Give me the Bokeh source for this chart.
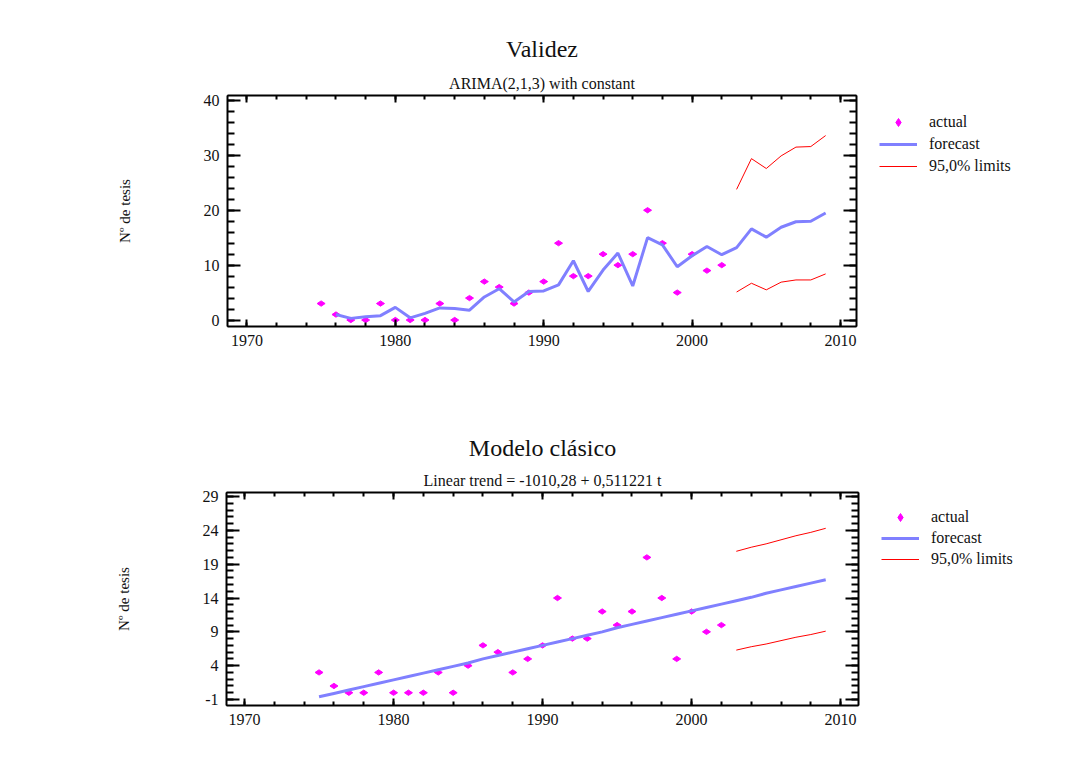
from bokeh.plotting import figure
from bokeh.layouts import column, row
from bokeh.models import (LinearAxis, Range1d, Title, Legend, LegendItem,
                          FixedTicker, CustomJSTickFormatter, ColumnDataSource)
from bokeh.embed import file_html
from bokeh.resources import INLINE

# ---------------- data ----------------
actual_years = list(range(1975, 2003))
actual = [3, 1, 0, 0, 3, 0, 0, 0, 3, 0, 4, 7, 6, 3, 5, 7, 14, 8, 8, 12,
          10, 12, 20, 14, 5, 12, 9, 10]

arima_years = list(range(1976, 2010))
arima_forecast = [1.0, 0.3, 0.6, 0.8, 2.3, 0.4, 1.2, 2.2, 2.1, 1.8, 4.2, 5.7,
                  3.3, 5.2, 5.3, 6.4, 10.8, 5.2, 9.1, 12.2, 6.2, 15.0, 13.7,
                  9.7, 11.7, 13.4, 11.9, 13.2, 16.6, 15.1, 16.9, 17.9, 18.0,
                  19.5]
limit_years = list(range(2003, 2010))
arima_upper = [23.8, 29.4, 27.6, 29.9, 31.5, 31.6, 33.6]
arima_lower = [5.1, 6.7, 5.5, 6.9, 7.3, 7.3, 8.4]

trend_years = list(range(1975, 2010))
trend_forecast = [-0.6, -0.1, 0.4, 0.9, 1.4, 1.9, 2.4, 2.9, 3.4, 3.9, 4.4,
                  5.0, 5.5, 6.0, 6.5, 7.0, 7.5, 8.0, 8.5, 9.0, 9.6, 10.1,
                  10.6, 11.1, 11.6, 12.1, 12.6, 13.1, 13.6, 14.1, 14.7, 15.2,
                  15.7, 16.2, 16.7]
trend_upper = [20.9, 21.5, 22.0, 22.6, 23.2, 23.7, 24.3]
trend_lower = [6.3, 6.8, 7.2, 7.7, 8.2, 8.6, 9.1]

x_ticks = [1970, 1980, 1990, 2000, 2010]
x_minor = list(range(1968, 2012, 2))
y_ticks_top = [0, 10, 20, 30, 40]
y_minor_top = list(range(0, 42, 2))
y_ticks_bot = [-1, 4, 9, 14, 19, 24, 29]
y_minor_bot = list(range(-1, 30))
legend_labels = ["actual", "forecast", "95,0% limits"]

FONT = "Liberation Serif"
TXT = "#111111"
MAGENTA = "#ff00ff"
BLUE = "#8080ff"
RED = "#ff0000"
MAIN_W = 876
TOTAL_W = 1050


def style_axis(ax, major_in, minor_in, labels=True):
    ax.axis_line_width = 2
    ax.axis_line_color = "black"
    ax.major_tick_in = major_in
    ax.major_tick_out = 0
    ax.minor_tick_in = minor_in
    ax.minor_tick_out = 0
    ax.major_tick_line_width = 2
    ax.minor_tick_line_width = 2
    ax.major_tick_line_color = "black"
    ax.minor_tick_line_color = "black"
    ax.major_label_text_font = FONT
    ax.major_label_text_font_size = "16px"
    ax.major_label_text_color = TXT
    ax.major_label_standoff = 8
    if labels:
        ax.formatter = CustomJSTickFormatter(code="return String(tick)")
    else:
        ax.formatter = CustomJSTickFormatter(code="return ''")
        ax.major_label_standoff = 0


def add_markers_lines(p, years_f, fc, years_l, up, lo):
    src_a = ColumnDataSource(dict(x=actual_years, y=actual))
    r_act = p.scatter("x", "y", source=src_a, marker="diamond", size=8,
                      angle=1.5708, color=MAGENTA)
    r_fc = p.line(years_f, fc, line_color=BLUE, line_width=3)
    r_up = p.line(years_l, up, line_color=RED, line_width=1)
    r_lo = p.line(years_l, lo, line_color=RED, line_width=1)
    return r_act, r_fc, r_up, r_lo


def make_panel(height, xr, yr, mb, yticks, yminor, title, subtitle,
               years_f, fc, years_l, up, lo, leg_loc, leg_spacing,
               title_standoff):
    p = figure(width=MAIN_W, height=height, output_backend="svg",
               toolbar_location=None, x_range=Range1d(*xr),
               y_range=Range1d(*yr),
               min_border_left=mb[0], min_border_right=mb[1],
               min_border_top=mb[2], min_border_bottom=mb[3])
    p.xgrid.visible = False
    p.ygrid.visible = False
    p.outline_line_color = "black"
    p.outline_line_width = 1
    p.background_fill_color = "white"
    p.border_fill_color = "white"

    xt = FixedTicker(ticks=x_ticks, minor_ticks=x_minor)
    yt = FixedTicker(ticks=yticks, minor_ticks=yminor)

    p.xaxis.ticker = xt
    p.yaxis.ticker = yt
    style_axis(p.xaxis[0], 7, 4)
    style_axis(p.yaxis[0], 13, 7)
    p.yaxis.axis_label = "Nº de tesis"
    p.yaxis.axis_label_text_font = FONT
    p.yaxis.axis_label_text_font_size = "15px"
    p.yaxis.axis_label_text_font_style = "normal"
    p.yaxis.axis_label_text_color = TXT
    p.yaxis.axis_label_standoff = 68

    top = LinearAxis(ticker=xt)
    style_axis(top, 7, 4, labels=False)
    p.add_layout(top, "above")
    right = LinearAxis(ticker=yt)
    style_axis(right, 13, 7, labels=False)
    p.add_layout(right, "right")

    p.add_layout(Title(text=subtitle, align="center", text_font=FONT,
                       text_font_size="16px", text_font_style="normal",
                       text_color=TXT, standoff=7), "above")
    p.add_layout(Title(text=title, align="center", text_font=FONT,
                       text_font_size="24px", text_font_style="normal",
                       text_color=TXT, standoff=title_standoff), "above")

    add_markers_lines(p, years_f, fc, years_l, up, lo)

    # legend lives in a narrow side figure so it is not clipped by the frame;
    # the same series are drawn there outside its (0..1) view, so only the
    # legend shows
    q = figure(width=TOTAL_W - MAIN_W, height=height, output_backend="svg",
               toolbar_location=None, x_axis_type=None, y_axis_type=None,
               x_range=Range1d(0, 1), y_range=Range1d(0, 1),
               min_border=0, outline_line_color=None)
    q.xgrid.visible = False
    q.ygrid.visible = False
    q.border_fill_color = "white"
    r_act, r_fc, r_up, _ = add_markers_lines(q, years_f, fc, years_l, up, lo)
    leg = Legend(items=[LegendItem(label=legend_labels[0], renderers=[r_act]),
                        LegendItem(label=legend_labels[1], renderers=[r_fc]),
                        LegendItem(label=legend_labels[2], renderers=[r_up])],
                 location=leg_loc, orientation="vertical",
                 label_text_font=FONT, label_text_font_size="16px",
                 label_text_color=TXT, glyph_width=38, glyph_height=20,
                 label_height=20, label_standoff=12, spacing=leg_spacing,
                 padding=0, margin=0, border_line_color=None,
                 background_fill_alpha=0)
    q.add_layout(leg, "center")
    return row(p, q, spacing=0)


p1 = make_panel(415, (1968.69, 2011.08), (-1.18, 40.9), (227, 20, 95, 89),
                y_ticks_top, y_minor_top, "Validez",
                "ARIMA(2,1,3) with constant", arima_years, arima_forecast,
                limit_years, arima_upper, arima_lower, (3, 150), 2, 16)
p2 = make_panel(345, (1968.79, 2011.2), (-1.885, 29.59), (226, 18, 77, 55),
                y_ticks_bot, y_minor_bot, "Modelo clásico",
                "Linear trend = -1010,28 + 0,511221 t", trend_years,
                trend_forecast, limit_years, trend_upper, trend_lower,
                (5, 136), 1, 11)

layout = column(p1, p2, spacing=0)
open("out.html", "w").write(file_html(layout, INLINE))
